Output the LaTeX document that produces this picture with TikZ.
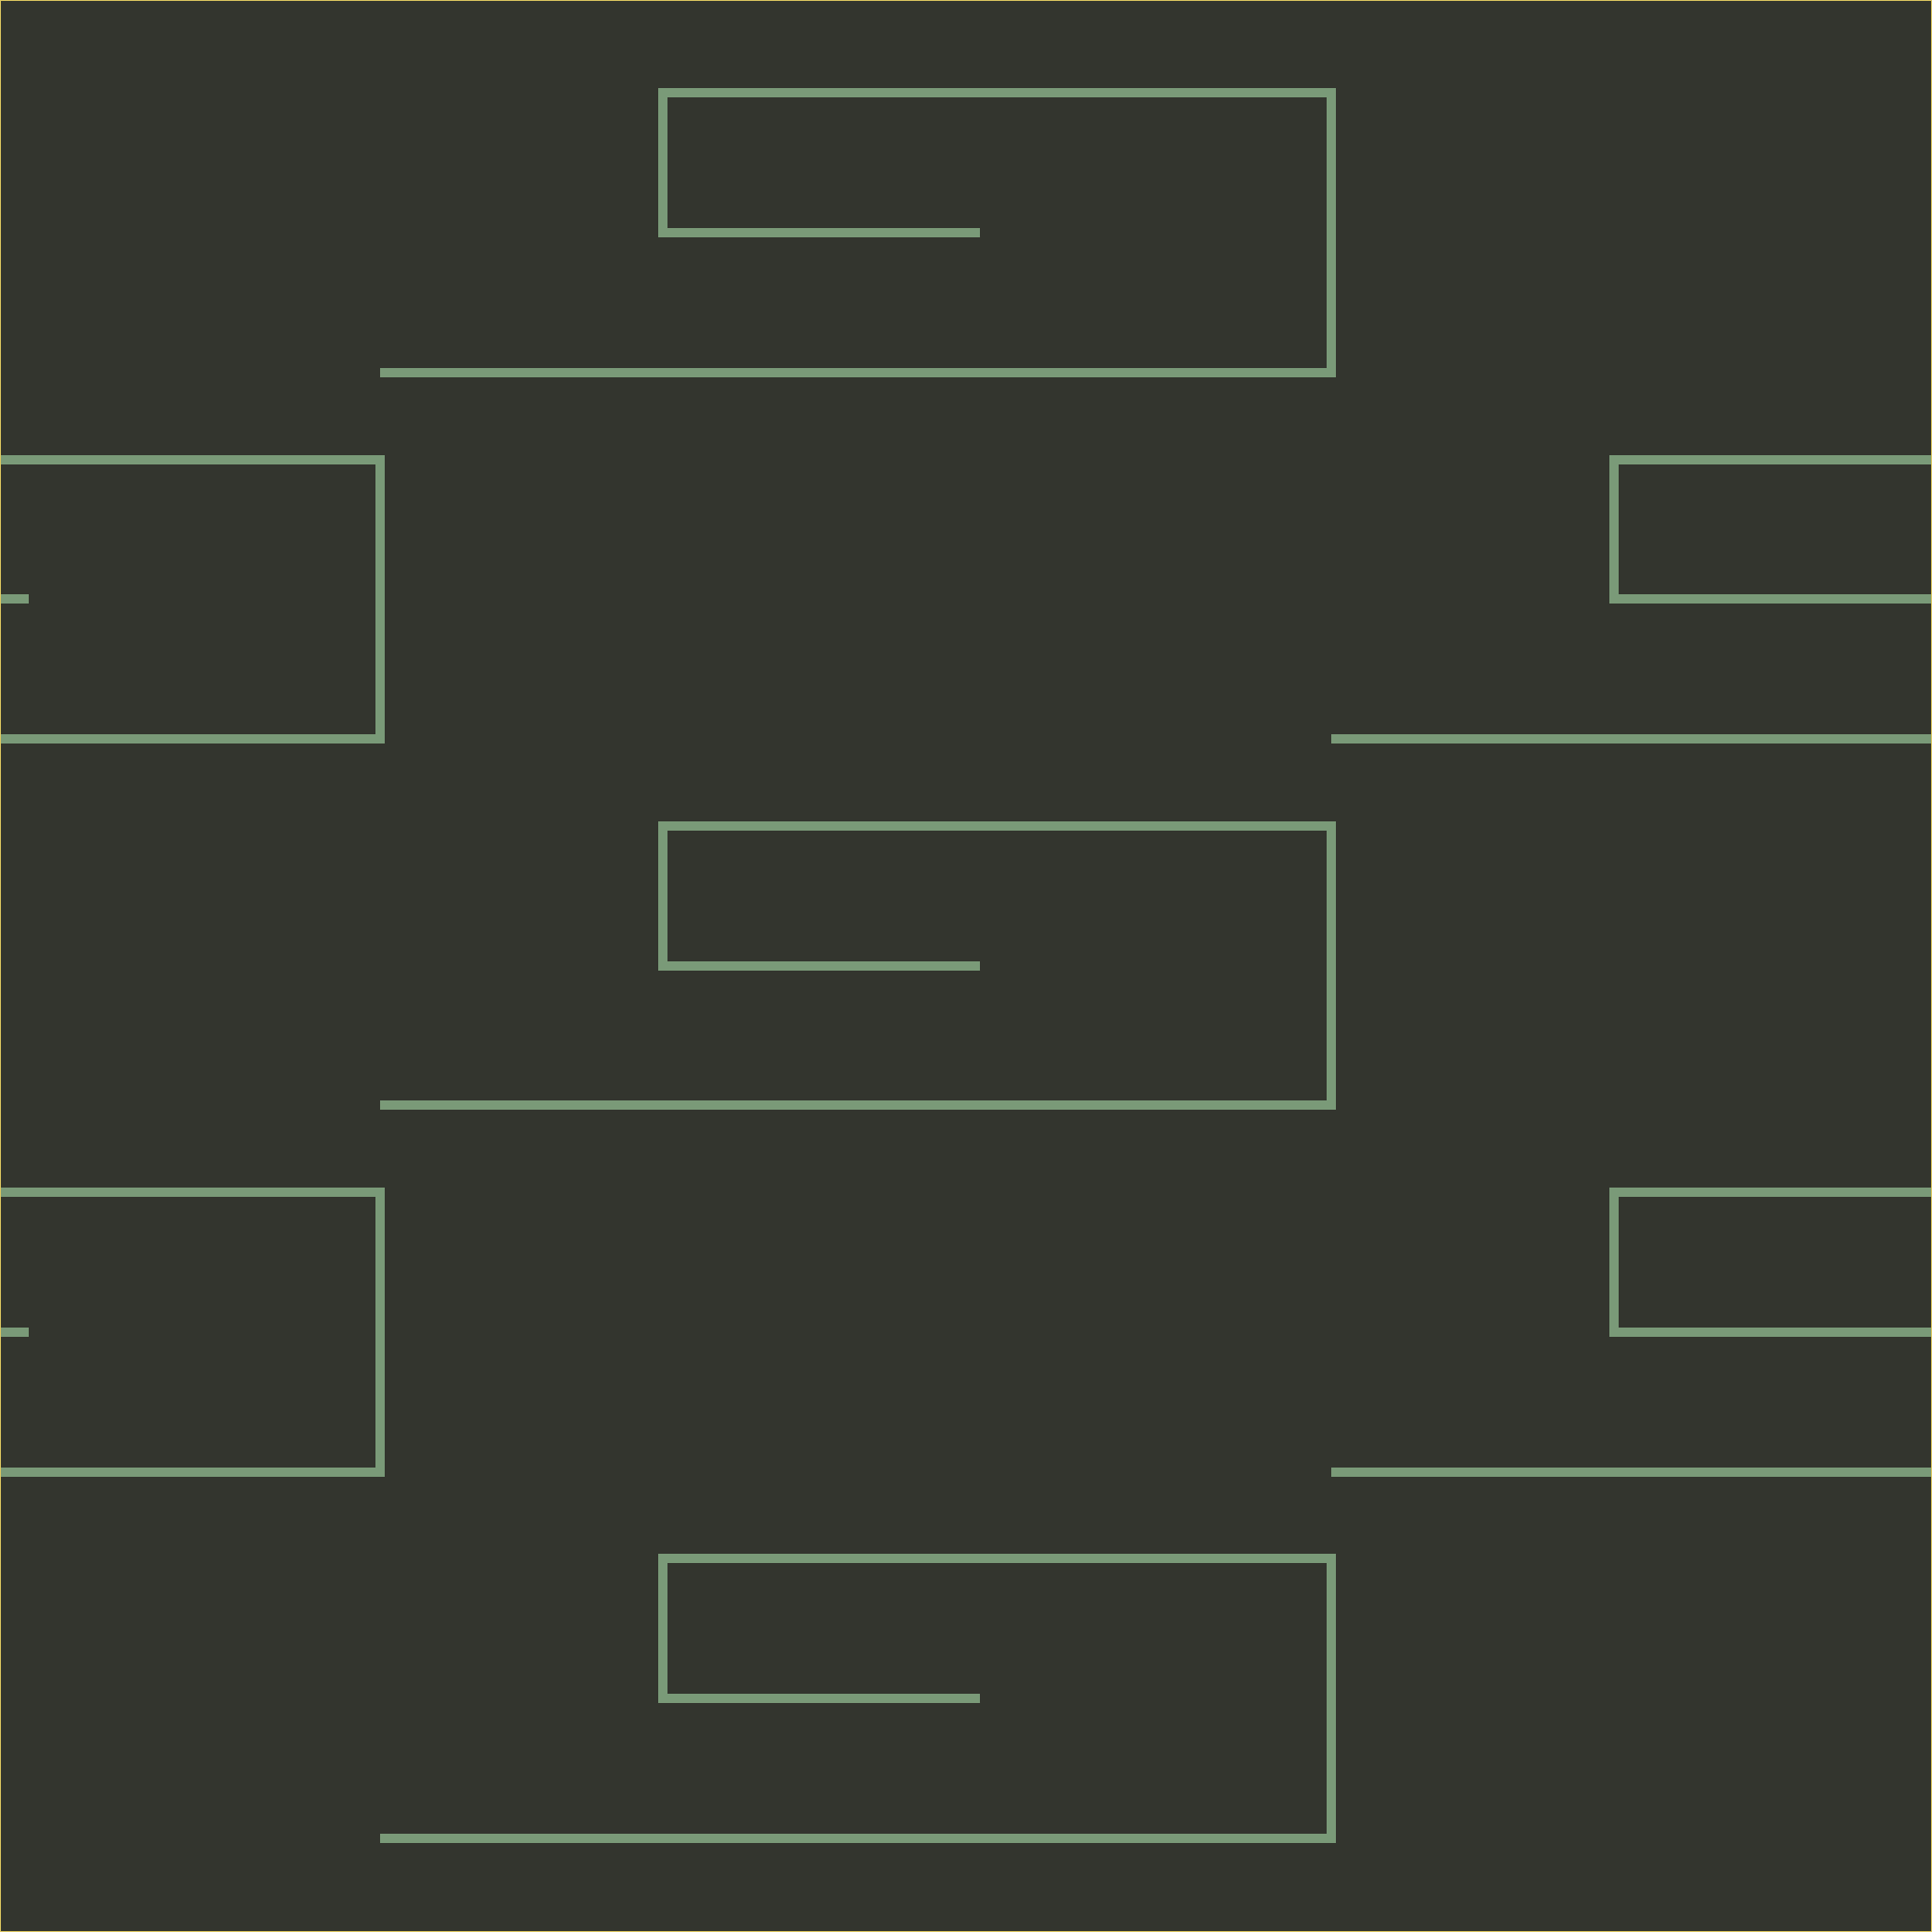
\documentclass[tikz,border=0pt]{standalone}
\usepackage{tikz}
\usepackage{xcolor}
\definecolor{bgdark}{RGB}{51, 53, 46}
\definecolor{wallgreen}{RGB}{122, 154, 120}
\definecolor{frameyellow}{RGB}{222, 200, 96}

\begin{document}
\begin{tikzpicture}[
    x=0.01cm, y=-0.01cm,
    wall/.style={wallgreen, line width=0.1cm, line cap=butt, line join=miter},
]

\def\rowh{790.5}
\def\side{2084}

% ===== Background =====
\fill[bgdark] (0,0) rectangle (\side,\side);
\useasboundingbox (0,0) rectangle (\side,\side);

\begin{scope}
\clip (0,0) rectangle (\side,\side);

% ===== Centre hooks =====
\foreach \i in {0,1,2} {
    \pgfmathsetmacro{\y}{\i*\rowh}
    \draw[wall] (1057.3,\y+251) -- (714.5,\y+251) -- (714.5,\y+100)
        -- (1436,\y+100) -- (1436,\y+401.5) -- (409.8,\y+401.5);
}

% ===== Side hooks =====
\foreach \i in {0,1} {
    \pgfmathsetmacro{\y}{\i*\rowh}
    % Left part
    \draw[wall] (-10,\y+495.5) -- (409.8,\y+495.5) -- (409.8,\y+797) -- (-10,\y+797);
    \draw[wall] (-10,\y+646) -- (31.3,\y+646);
    % Right part
    \draw[wall] (2094,\y+495.5) -- (1740.7,\y+495.5) -- (1740.7,\y+646) -- (2094,\y+646);
    \draw[wall] (1436,\y+797) -- (2094,\y+797);
}
\end{scope}

% Frame
\draw[frameyellow, line width=0.025cm] (0,0) rectangle (\side,\side);

\end{tikzpicture}
\end{document}
